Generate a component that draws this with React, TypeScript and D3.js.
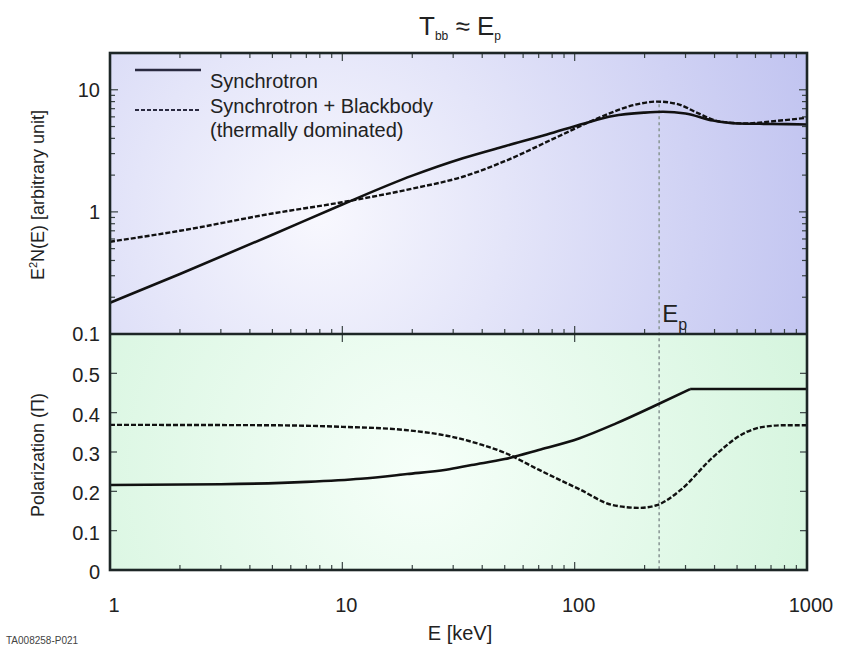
import React, { useRef, useEffect } from 'react';
import * as d3 from 'd3';

// spectrum panel (E^2 N(E))
const specEnergy = [1, 2, 5, 10, 20, 33, 50, 76, 110, 146, 200, 240, 300, 394, 500, 700, 1000];
const specSynch = [0.18, 0.31, 0.65, 1.15, 1.98, 2.75, 3.45, 4.3, 5.3, 6.1, 6.5, 6.6, 6.4, 5.6, 5.3, 5.25, 5.2];
const specBbEnergy = [1, 2, 5, 10, 20, 33, 50, 84, 130, 180, 226, 280, 335, 420, 550, 700, 1000];
const specBb = [0.57, 0.7, 0.97, 1.2, 1.55, 1.94, 2.6, 4.1, 6.0, 7.5, 8.0, 7.6, 6.5, 5.5, 5.3, 5.5, 5.9];

// polarization panel
const polSynchEnergy = [1, 3, 7, 12, 19, 28, 36, 50, 70, 105, 150, 226, 314, 1000];
const polSynch = [0.216, 0.218, 0.224, 0.232, 0.244, 0.255, 0.267, 0.282, 0.305, 0.335, 0.372, 0.42, 0.46, 0.46];
const polBbEnergy = [1, 5, 10, 18.6, 30, 40, 50, 70, 105, 146, 190, 226, 285, 394, 550, 650, 800, 1000];
const polBb = [0.369, 0.368, 0.364, 0.356, 0.338, 0.318, 0.298, 0.255, 0.205, 0.165, 0.158, 0.165, 0.203, 0.287, 0.351, 0.364, 0.368, 0.368];

const xTicks = [1, 10, 100, 1000];
const specTicks = [0.1, 1, 10];
const polTicks = [0, 0.1, 0.2, 0.3, 0.4, 0.5];
const peakEnergy = 231;

const legendLabels = ['Synchrotron', 'Synchrotron + Blackbody', '(thermally dominated)'];

function App() {
  const ref = useRef<HTMLDivElement>(null);

  useEffect(() => {
    if (!ref.current) return;
    document.body.style.margin = '0';
    d3.select(ref.current).selectAll('*').remove();

    const width = 853;
    const height = 655;
    const left = 110;
    const right = 807;
    const top = 53;
    const mid = 334;
    const bottom = 570;
    const font = 'Liberation Sans, Arial, sans-serif';

    const svg = d3
      .select(ref.current)
      .append('svg')
      .attr('width', width)
      .attr('height', height)
      .style('display', 'block')
      .style('background', '#fff');

    const x = d3.scaleLog().domain([1, 1000]).range([left, right]);
    const yTop = d3.scaleLog().domain([0.1, 20]).range([mid, top]);
    const yBot = d3.scaleLinear().domain([0, 0.6]).range([bottom, mid]);

    const defs = svg.append('defs');
    const gTop = defs
      .append('radialGradient')
      .attr('id', 'bgTop')
      .attr('gradientUnits', 'userSpaceOnUse')
      .attr('cx', 320)
      .attr('cy', 215)
      .attr('r', 560);
    gTop.append('stop').attr('offset', '0%').attr('stop-color', '#f8f8fe');
    gTop.append('stop').attr('offset', '100%').attr('stop-color', '#bcbfef');

    const gBot = defs
      .append('radialGradient')
      .attr('id', 'bgBot')
      .attr('gradientUnits', 'userSpaceOnUse')
      .attr('cx', 420)
      .attr('cy', 470)
      .attr('r', 440);
    gBot.append('stop').attr('offset', '0%').attr('stop-color', '#f6fff9');
    gBot.append('stop').attr('offset', '100%').attr('stop-color', '#d3f4dc');

    svg.append('rect').attr('x', left).attr('y', top).attr('width', right - left).attr('height', mid - top).attr('fill', 'url(#bgTop)');
    svg.append('rect').attr('x', left).attr('y', mid).attr('width', right - left).attr('height', bottom - mid).attr('fill', 'url(#bgBot)');

    const frame = '#1d2626';

    // log minor ticks along x (bottom edge, divider, top edge)
    const xMinor: number[] = [];
    for (let d = 1; d < 1000; d *= 10) for (let k = 2; k <= 9; k++) xMinor.push(d * k);
    const tickG = svg.append('g').attr('stroke', '#3a4444').attr('stroke-width', 1.2);
    [bottom, mid, top].forEach((yy) => {
      const dir = yy === top ? 1 : -1;
      xTicks.forEach((t) => {
        tickG.append('line').attr('x1', x(t)).attr('x2', x(t)).attr('y1', yy).attr('y2', yy + dir * 8);
      });
      xMinor.forEach((t) => {
        tickG.append('line').attr('x1', x(t)).attr('x2', x(t)).attr('y1', yy).attr('y2', yy + dir * 5);
      });
      if (yy === mid) {
        xTicks.forEach((t) => {
          tickG.append('line').attr('x1', x(t)).attr('x2', x(t)).attr('y1', yy).attr('y2', yy + 8);
        });
      }
    });

    // y ticks on both sides
    const yMinor: number[] = [];
    [0.1, 1, 10].forEach((d) => {
      for (let k = 2; k <= 9; k++) if (d * k <= 20) yMinor.push(d * k);
    });
    [left, right].forEach((xx) => {
      const dir = xx === left ? 1 : -1;
      specTicks.forEach((t) => {
        tickG.append('line').attr('x1', xx).attr('x2', xx + dir * 8).attr('y1', yTop(t)).attr('y2', yTop(t));
      });
      yMinor.forEach((t) => {
        tickG.append('line').attr('x1', xx).attr('x2', xx + dir * 5).attr('y1', yTop(t)).attr('y2', yTop(t));
      });
      polTicks.forEach((t) => {
        tickG.append('line').attr('x1', xx).attr('x2', xx + dir * 7).attr('y1', yBot(t)).attr('y2', yBot(t));
      });
    });

    // peak energy marker
    svg
      .append('line')
      .attr('x1', x(peakEnergy))
      .attr('x2', x(peakEnergy))
      .attr('y1', yTop(7.6))
      .attr('y2', bottom)
      .attr('stroke', '#8d9a98')
      .attr('stroke-width', 1.6)
      .attr('stroke-dasharray', '3,3');

    const lineOf = (xs: number[], ys: number[], yScale: any, curve: any) =>
      d3
        .line<number>()
        .x((_, i) => x(xs[i]))
        .y((v) => yScale(v))
        .curve(curve)(ys);

    // polarization of pure synchrotron: smooth rise, then flat after the kink
    const kink = polSynchEnergy.indexOf(314);
    const curves = [
      { d: lineOf(specEnergy, specSynch, yTop, d3.curveMonotoneX), dash: null },
      { d: lineOf(specBbEnergy, specBb, yTop, d3.curveMonotoneX), dash: '5,2' },
      {
        d: lineOf(polSynchEnergy.slice(0, kink + 1), polSynch.slice(0, kink + 1), yBot, d3.curveMonotoneX),
        dash: null,
      },
      { d: lineOf(polSynchEnergy.slice(kink), polSynch.slice(kink), yBot, d3.curveLinear), dash: null },
      { d: lineOf(polBbEnergy, polBb, yBot, d3.curveMonotoneX), dash: '5,2' },
    ];
    curves.forEach((c) => {
      svg
        .append('path')
        .attr('d', c.d)
        .attr('fill', 'none')
        .attr('stroke', '#111')
        .attr('stroke-width', c.dash ? 2.4 : 2.6)
        .attr('stroke-linejoin', 'round')
        .attr('stroke-dasharray', c.dash);
    });

    // frame
    svg
      .append('rect')
      .attr('x', left)
      .attr('y', top)
      .attr('width', right - left)
      .attr('height', bottom - top)
      .attr('fill', 'none')
      .attr('stroke', frame)
      .attr('stroke-width', 2.6);
    svg.append('line').attr('x1', left).attr('x2', right).attr('y1', mid).attr('y2', mid).attr('stroke', frame).attr('stroke-width', 2.6);

    // legend
    const leg = svg.append('g').attr('font-family', font).attr('font-size', 20).attr('fill', '#222');
    leg.append('line').attr('x1', 135).attr('x2', 201).attr('y1', 70).attr('y2', 70).attr('stroke', '#2a2a40').attr('stroke-width', 2.6);
    leg
      .append('line')
      .attr('x1', 135)
      .attr('x2', 201)
      .attr('y1', 110)
      .attr('y2', 110)
      .attr('stroke', '#2a2a40')
      .attr('stroke-width', 2.2)
      .attr('stroke-dasharray', '4,2');
    legendLabels.forEach((t, i) => {
      leg.append('text').attr('x', 210).attr('y', 88 + i * 24.5).text(t);
    });

    // tick labels
    const lab = svg.append('g').attr('font-family', font).attr('font-size', 20).attr('fill', '#222');
    xTicks.forEach((t) => {
      lab.append('text').attr('x', x(t) + 4).attr('y', 612).attr('text-anchor', 'middle').text(String(t));
    });
    specTicks.forEach((t) => {
      lab.append('text').attr('x', 100).attr('y', yTop(t) + 7).attr('text-anchor', 'end').text(String(t));
    });
    polTicks.forEach((t) => {
      lab.append('text').attr('x', 100).attr('y', yBot(t) + 9).attr('text-anchor', 'end').text(String(t));
    });

    // axis titles
    lab.append('text').attr('x', 460).attr('y', 640).attr('text-anchor', 'middle').text('E [keV]');
    const yt1 = lab
      .append('text')
      .attr('transform', 'translate(44,195) rotate(-90)')
      .attr('text-anchor', 'middle')
      .attr('font-size', 18);
    yt1.append('tspan').text('E');
    yt1.append('tspan').attr('font-size', 11).attr('dy', -7).text('2');
    yt1.append('tspan').attr('dy', 7).text('N(E) [arbitrary unit]');
    lab
      .append('text')
      .attr('transform', 'translate(44,455) rotate(-90)')
      .attr('text-anchor', 'middle')
      .attr('font-size', 18)
      .text('Polarization (Π)');

    // title
    const title = svg
      .append('text')
      .attr('x', 460)
      .attr('y', 35)
      .attr('text-anchor', 'middle')
      .attr('font-family', font)
      .attr('font-size', 26)
      .attr('fill', '#222');
    title.append('tspan').text('T');
    title.append('tspan').attr('font-size', 12).attr('dy', 5).text('bb');
    title.append('tspan').attr('dy', -5).text(' ≈  E');
    title.append('tspan').attr('font-size', 12).attr('dy', 5).text('p');

    // Ep label
    const ep = svg
      .append('text')
      .attr('x', x(peakEnergy) + 3)
      .attr('y', 322)
      .attr('font-family', font)
      .attr('font-size', 24)
      .attr('fill', '#222');
    ep.append('tspan').text('E');
    ep.append('tspan').attr('font-size', 16).attr('dy', 8).text('p');

    svg
      .append('text')
      .attr('x', 6)
      .attr('y', 644)
      .attr('font-family', font)
      .attr('font-size', 10)
      .attr('fill', '#444')
      .text('TA008258-P021');
  }, []);

  return <div ref={ref} />;
}

export default App;
